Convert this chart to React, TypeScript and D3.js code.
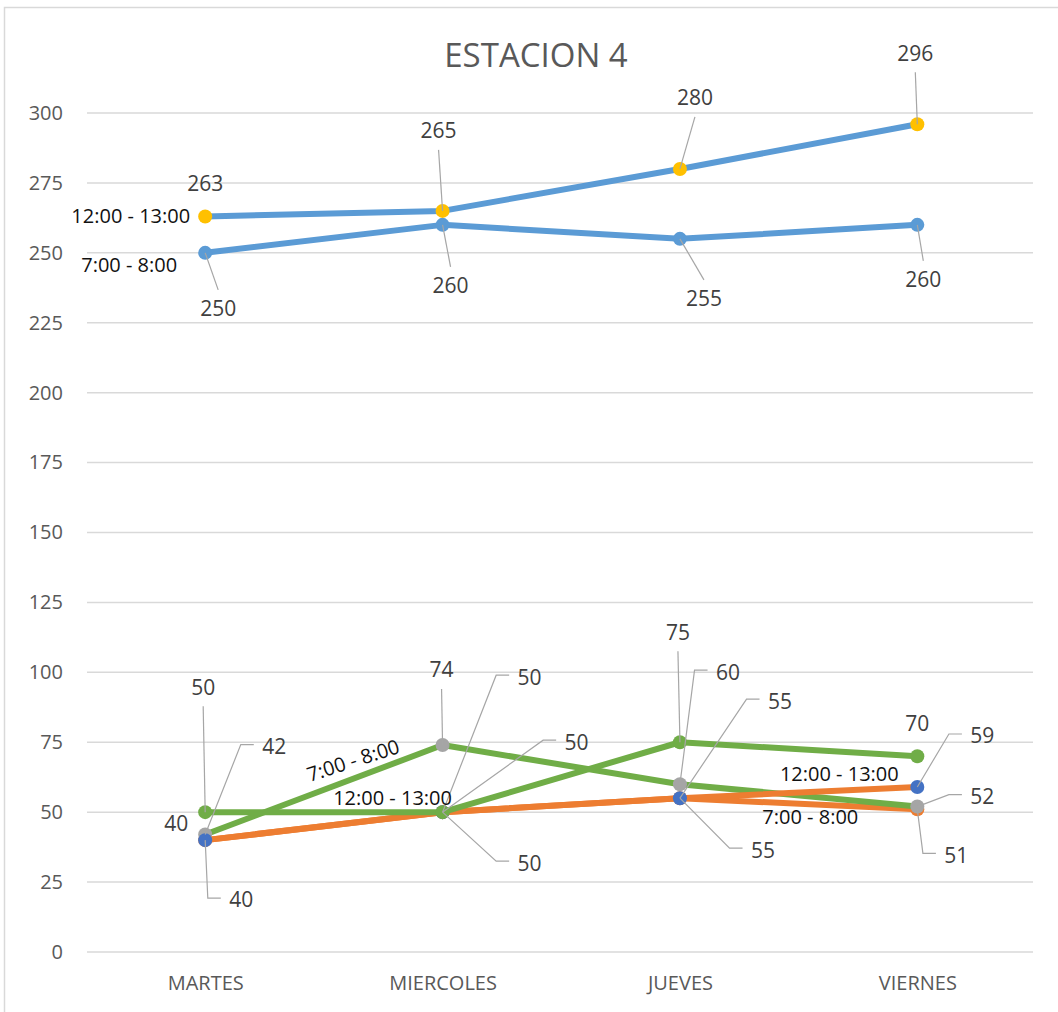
import React, { useRef, useEffect } from 'react';
import * as d3 from 'd3';

// categories and tick values
const categories = ['MARTES', 'MIERCOLES', 'JUEVES', 'VIERNES'];
const yTicks = [0, 25, 50, 75, 100, 125, 150, 175, 200, 225, 250, 275, 300];

// upper pair of series (blue lines)
const upperMorning = [250, 260, 255, 260];
const upperNoon = [263, 265, 280, 296];
// lower series
const orangeMorning = [40, 50, 55, 51];
const greenMorning = [42, 74, 60, 52];
const orangeNoon = [40, 50, 55, 59];
const greenNoon = [50, 50, 75, 70];

const seriesNames = ['7:00 - 8:00', '12:00 - 13:00'];

interface Series {
  values: number[];
  line: string;
  marker: string;
  name: string;
}

// drawing order matters (later ones on top)
const series: Series[] = [
  { values: upperMorning, line: '#5B9BD5', marker: '#5B9BD5', name: seriesNames[0] },
  { values: upperNoon, line: '#5B9BD5', marker: '#FFC000', name: seriesNames[1] },
  { values: orangeMorning, line: '#ED7D31', marker: '#ED7D31', name: seriesNames[0] },
  { values: greenMorning, line: '#70AD47', marker: '#A5A5A5', name: seriesNames[0] },
  { values: orangeNoon, line: '#ED7D31', marker: '#4472C4', name: seriesNames[1] },
  { values: greenNoon, line: '#70AD47', marker: '#70AD47', name: seriesNames[1] },
];

// label placement: [dx, dy, leader kind] in pixels from the point
type Lbl = [number, number, 'n' | 'v' | 'h'];
const labelPos: Lbl[][] = [
  [[13, 56, 'v'], [8, 61, 'v'], [24, 60, 'v'], [6, 55, 'v']],
  [[0, -33, 'n'], [-4, -80, 'v'], [15, -71, 'v'], [-2, -71, 'v']],
  [[36, 60, 'h'], [87, 51, 'h'], [83, 52, 'h'], [39, 46, 'h']],
  [[69, -88, 'h'], [-1, -75, 'v'], [48, -112, 'h'], [65, -10, 'h']],
  [[-29, -16, 'n'], [134, -70, 'h'], [100, -97, 'h'], [65, -51, 'h']],
  [[-2, -125, 'v'], [87, -135, 'h'], [-2, -110, 'v'], [0, -33, 'n']],
];

// series name labels: [series, point, dx, dy, anchor, rotate]
const nameLabels: [number, number, number, number, string, number][] = [
  [0, 0, -28, 12, 'end', 0],
  [1, 0, -15, 0, 'end', 0],
  [3, 0, 148, -74, 'middle', -18],
  [5, 1, -50, -14, 'middle', 0],
  [4, 3, -78, -13, 'middle', 0],
  [2, 3, -107, 8, 'middle', 0],
];

const W = 1058;
const H = 1012;
const FONT = "'Open Sans', sans-serif";

export default function App() {
  const svgRef = useRef<SVGSVGElement | null>(null);

  useEffect(() => {
    if (!svgRef.current) return;
    const svg = d3.select(svgRef.current);
    svg.selectAll('*').remove();

    const x = d3.scalePoint<string>().domain(categories).range([86.5, 1036]).padding(0.5);
    const y = d3.scaleLinear().domain([0, 300]).range([952, 113]);

    svg.append('rect').attr('width', W).attr('height', H).attr('fill', '#fff');
    svg.append('rect')
      .attr('x', 4.5).attr('y', 7.5).attr('width', W + 50).attr('height', H + 50)
      .attr('fill', 'none').attr('stroke', '#d9d9d9').attr('stroke-width', 1.5);

    // title
    svg.append('text')
      .attr('x', 536).attr('y', 55).attr('dy', '0.35em')
      .attr('text-anchor', 'middle')
      .attr('font-family', FONT).attr('font-size', 33).attr('fill', '#595959')
      .text('ESTACION 4');

    // gridlines
    svg.append('g').selectAll('line').data(yTicks).enter().append('line')
      .attr('x1', 87).attr('x2', 1033)
      .attr('y1', d => y(d)).attr('y2', d => y(d))
      .attr('stroke', '#d9d9d9').attr('stroke-width', 1.5);

    // y axis labels
    const yAxis = svg.append('g')
      .attr('transform', 'translate(63,0)')
      .call(d3.axisLeft(y).tickValues(yTicks).tickSize(0).tickPadding(0));
    yAxis.select('.domain').remove();
    yAxis.selectAll('text')
      .attr('font-family', FONT).attr('font-size', 20).attr('fill', '#595959');

    // x axis labels
    const xAxis = svg.append('g')
      .attr('transform', 'translate(0,952)')
      .call(d3.axisBottom(x).tickSize(0).tickPadding(24));
    xAxis.select('.domain').remove();
    xAxis.selectAll('text')
      .attr('font-family', FONT).attr('font-size', 20).attr('fill', '#595959');

    const line = d3.line<number>()
      .x((_, i) => x(categories[i]) as number)
      .y(d => y(d));

    series.forEach(s => {
      const g = svg.append('g');
      g.append('path')
        .datum(s.values)
        .attr('fill', 'none')
        .attr('stroke', s.line)
        .attr('stroke-width', 6)
        .attr('stroke-linejoin', 'round')
        .attr('stroke-linecap', 'round')
        .attr('d', line);
      g.selectAll('circle').data(s.values).enter().append('circle')
        .attr('cx', (_, i) => x(categories[i]) as number)
        .attr('cy', d => y(d))
        .attr('r', 7)
        .attr('fill', s.marker);
    });

    // data labels + leader lines
    const lg = svg.append('g');
    series.forEach((s, si) => {
      s.values.forEach((v, i) => {
        const px = x(categories[i]) as number;
        const py = y(v);
        const [dx, dy, kind] = labelPos[si][i];
        const lx = px + dx;
        const ly = py + dy;
        const txt = String(v);
        const half = txt.length * 6.2;
        if (kind === 'v') {
          const ey = dy < 0 ? ly + 19 : ly - 19;
          lg.append('line')
            .attr('x1', px).attr('y1', py).attr('x2', lx).attr('y2', ey)
            .attr('stroke', '#a6a6a6').attr('stroke-width', 1.2);
        } else if (kind === 'h') {
          const end = lx - half - 8;
          const start = end - 13;
          lg.append('path')
            .attr('d', `M${px},${py}L${start},${ly - 2}L${end},${ly - 2}`)
            .attr('fill', 'none')
            .attr('stroke', '#a6a6a6').attr('stroke-width', 1.2);
        }
        lg.append('text')
          .attr('x', lx).attr('y', ly).attr('dy', '0.35em')
          .attr('text-anchor', 'middle')
          .attr('font-family', FONT).attr('font-size', 21).attr('fill', '#404040')
          .text(txt);
      });
    });

    // series name labels
    nameLabels.forEach(([si, pi, dx, dy, anchor, rot]) => {
      const px = (x(categories[pi]) as number) + dx;
      const py = y(series[si].values[pi]) + dy;
      lg.append('text')
        .attr('transform', `translate(${px},${py}) rotate(${rot})`)
        .attr('dy', '0.35em')
        .attr('text-anchor', anchor)
        .attr('font-family', FONT).attr('font-size', 20).attr('fill', '#111')
        .text(series[si].name);
    });
  }, []);

  return (
    <svg
      ref={svgRef}
      width={W}
      height={H}
      style={{ position: 'absolute', left: 0, top: 0 }}
    />
  );
}
